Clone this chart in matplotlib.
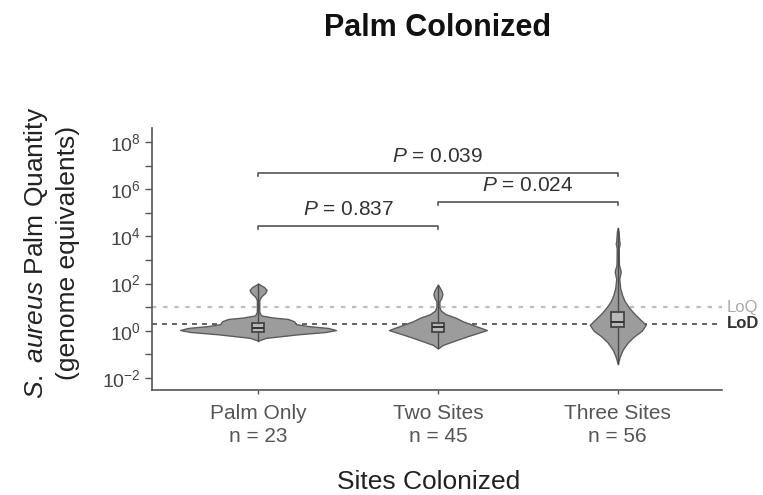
import numpy as np
import matplotlib
matplotlib.use("Agg")
import matplotlib.pyplot as plt
from matplotlib.ticker import LogFormatterMathtext, NullFormatter
from matplotlib.transforms import blended_transform_factory

plt.rcParams["font.family"] = ["Liberation Sans", "DejaVu Sans"]
plt.rcParams["mathtext.fontset"] = "custom"
plt.rcParams["mathtext.rm"] = "Liberation Sans"
plt.rcParams["mathtext.it"] = "Liberation Sans:italic"
plt.rcParams["mathtext.bf"] = "Liberation Sans:bold"

groups = ["Palm Only", "Two Sites", "Three Sites"]
counts = [23, 45, 56]

# violin outlines: log10 quantity and density half-width (px-ish units)
palm_levels = [-0.42, -0.3, -0.15, -0.05, 0.03, 0.12, 0.2, 0.28, 0.4, 0.5, 0.56, 0.65, 0.8,
               1.3, 1.45, 1.6, 1.73, 1.85, 1.95, 2.0]
palm_density = [0, 8, 40, 68, 78, 70, 50, 38, 36, 30, 15, 3, 1.2,
                1.2, 3, 7, 8.5, 6, 2, 0]
two_levels = [-0.75, -0.6, -0.4, -0.2, 0.03, 0.2, 0.4, 0.55, 0.7, 0.85, 1.0,
              1.25, 1.4, 1.55, 1.7, 1.85, 1.95]
two_density = [0, 5, 18, 32, 49, 38, 25, 18, 8, 3, 1.5,
               1.5, 3.5, 4.5, 3.5, 1.5, 0]
three_levels = [-1.4, -1.1, -0.8, -0.5, -0.25, 0.0, 0.25, 0.5, 0.75, 1.0, 1.25, 1.5, 1.8,
                2.2, 2.4, 2.5, 2.6, 2.8, 3.5, 3.7, 3.8, 4.2, 4.35]
three_density = [0, 2, 5, 10, 16, 24, 28, 22, 16, 11, 7, 4.5, 2.5,
                 1.5, 2.5, 3, 2.5, 1.2, 1, 2, 1.5, 0.8, 0]

# box stats (log10)
q1 = [-0.05, -0.05, 0.15]
med = [0.12, 0.15, 0.37]
q3 = [0.35, 0.33, 0.8]

LOD = 2
LOQ = 10

comparisons = [(0, 2), (1, 2), (0, 1)]
p_values = ["0.039", "0.024", "0.837"]
bracket_h = [6.69, 5.46, 4.44]

fig = plt.figure(figsize=(7.63, 4.95), dpi=100)
ax = fig.add_axes([0.1992, 0.2121, 0.7471, 0.5293])
ax.set_yscale("log")
ax.set_ylim(10 ** -2.51, 10 ** 8.59)
ax.set_xlim(-0.59, 2.58)

ax.axhline(LOQ, color="#bdbdbd", lw=1.6, ls=(0, (2, 3)), zorder=1)
ax.axhline(LOD, color="#4a4a4a", lw=1.2, ls=(0, (3, 3)), zorder=1)
tr = blended_transform_factory(ax.transAxes, ax.transData)
ax.text(1.008, LOQ, "LoQ", transform=tr, va="center", ha="left", fontsize=12, color="#aaaaaa")
ax.text(1.008, LOD, "LoD", transform=tr, va="center", ha="left", fontsize=12,
        color="#333333", fontweight="bold")

levels = [palm_levels, two_levels, three_levels]
dens = [palm_density, two_density, three_density]
stats = []
for i in range(3):
    lv = np.array(levels[i])
    w = np.array(dens[i]) / 180.0
    ax.fill_betweenx(10 ** lv, i - w, i + w, facecolor="#9c9c9c", edgecolor="#5c5c5c",
                     lw=1.0, zorder=2)
    stats.append({"med": 10 ** med[i], "q1": 10 ** q1[i], "q3": 10 ** q3[i],
                  "whislo": 10 ** lv[0], "whishi": 10 ** lv[-1], "fliers": []})

ax.bxp(stats, positions=[0, 1, 2], widths=0.07, patch_artist=True, showcaps=False,
       boxprops=dict(facecolor="#b8b8b8", edgecolor="#3c3c3c", lw=1.2),
       whiskerprops=dict(color="#4a4a4a", lw=1.0),
       medianprops=dict(color="#333333", lw=1.4), zorder=3)

for (a, b), p, h in zip(comparisons, p_values, bracket_h):
    y = 10 ** h
    y0 = 10 ** (h - 0.13)
    ax.plot([a, a, b, b], [y0, y, y, y0], color="#555555", lw=1.2, clip_on=False)
    ax.annotate(r"$P$ = " + p, xy=((a + b) / 2, y), xytext=(0, 5), textcoords="offset points",
                ha="center", va="bottom", fontsize=15, color="#333333")

for s in ["top", "right"]:
    ax.spines[s].set_visible(False)
for s in ["left", "bottom"]:
    ax.spines[s].set_color("#555555")
    ax.spines[s].set_linewidth(1.2)

ax.set_yticks([10.0 ** k for k in range(-2, 9, 2)])
ax.set_yticks([10.0 ** k for k in range(-1, 9, 2)], minor=True)
ax.yaxis.set_major_formatter(LogFormatterMathtext())
ax.yaxis.set_minor_formatter(NullFormatter())
ax.tick_params(axis="y", which="both", length=5, width=1, color="#555555",
               labelsize=14, labelcolor="#444444", pad=3)
ax.set_xticks([0, 1, 2])
ax.set_xticklabels([f"{g}\nn = {c}" for g, c in zip(groups, counts)],
                   fontsize=15, color="#555555", linespacing=1.3)
ax.tick_params(axis="x", length=3, width=1, color="#555555", pad=7)

fig.text(438 / 763, 1 - 28 / 495, "Palm Colonized", ha="center", va="center",
         fontsize=22, fontweight="bold", color="#111111")
fig.text(429 / 763, 1 - 482 / 495, "Sites Colonized", ha="center", va="center",
         fontsize=19, color="#222222")
fig.text(51 / 763, 1 - 253 / 495,
         r"$\mathit{S.\ aureus}$ Palm Quantity" + "\n(genome equivalents)",
         rotation=90, ha="center", va="center", fontsize=19, color="#222222",
         linespacing=1.35, multialignment="center")

fig.savefig("out.png", dpi=100)
